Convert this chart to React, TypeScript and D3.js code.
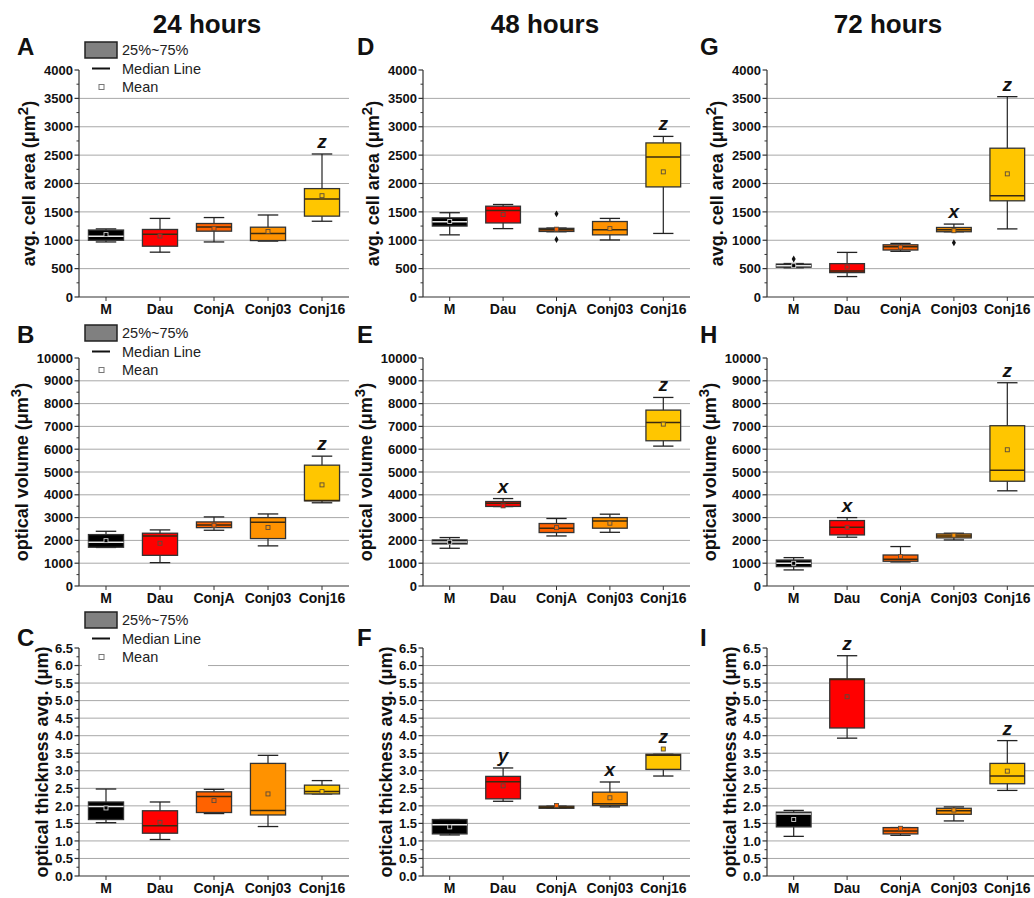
import React from 'react';
import * as d3 from 'd3';

// Groups and their fill colours
const groups = ['M', 'Dau', 'ConjA', 'Conj03', 'Conj16'];
const groupColors = ['#000000', '#ff0000', '#ff6200', '#ff9200', '#ffc600'];
const columnTitles = ['24 hours', '48 hours', '72 hours'];
const panelLetters = [['A', 'D', 'G'], ['B', 'E', 'H'], ['C', 'F', 'I']];

// Box statistics per group: [min, q1, median, q3, max, mean]
const area24 = [
  [970, 1000, 1070, 1180, 1200, 1100],
  [790, 895, 1105, 1190, 1385, 1075],
  [970, 1160, 1235, 1295, 1400, 1210],
  [985, 995, 1120, 1230, 1445, 1155],
  [1335, 1425, 1725, 1910, 2520, 1785],
];
const area48 = [
  [1095, 1250, 1325, 1395, 1485, 1330],
  [1205, 1305, 1525, 1600, 1630, 1455],
  [1150, 1155, 1185, 1210, 1215, 1195],
  [1005, 1095, 1185, 1330, 1385, 1205],
  [1120, 1940, 2465, 2715, 2830, 2205],
];
const area72 = [
  [515, 525, 550, 580, 590, 552],
  [360, 430, 458, 588, 786, 528],
  [805, 828, 886, 920, 944, 880],
  [1150, 1150, 1185, 1225, 1285, 1168],
  [1200, 1695, 1783, 2622, 3530, 2170],
];
const volume24 = [
  [1690, 1700, 1920, 2255, 2400, 1990],
  [1025, 1345, 2195, 2315, 2460, 1875],
  [2445, 2560, 2680, 2810, 3030, 2665],
  [1760, 2080, 2800, 3000, 3160, 2565],
  [3650, 3735, 3750, 5300, 5695, 4435],
];
const volume48 = [
  [1655, 1845, 1935, 2020, 2125, 1920],
  [3485, 3490, 3630, 3705, 3835, 3515],
  [2195, 2345, 2535, 2740, 2960, 2560],
  [2355, 2535, 2855, 3000, 3150, 2755],
  [6135, 6370, 7175, 7715, 8270, 7100],
];
const volume72 = [
  [705, 850, 995, 1140, 1245, 995],
  [2140, 2240, 2575, 2870, 3000, 2575],
  [1055, 1085, 1170, 1360, 1730, 1290],
  [2020, 2110, 2195, 2285, 2315, 2225],
  [4175, 4595, 5080, 7030, 8915, 5975],
];
const thick24 = [
  [1.52, 1.61, 1.98, 2.11, 2.48, 1.94],
  [1.04, 1.22, 1.43, 1.86, 2.11, 1.53],
  [1.78, 1.81, 2.27, 2.4, 2.47, 2.15],
  [1.41, 1.74, 1.87, 3.21, 3.44, 2.34],
  [2.34, 2.34, 2.41, 2.59, 2.72, 2.41],
];
const thick48 = [
  [1.17, 1.2, 1.46, 1.61, 1.61, 1.4],
  [2.13, 2.2, 2.69, 2.84, 3.08, 2.57],
  [1.93, 1.93, 1.96, 1.99, 1.99, 2.01],
  [1.97, 2.01, 2.06, 2.39, 2.68, 2.23],
  [2.85, 3.04, 3.44, 3.47, 3.47, 3.62],
];
const thick72 = [
  [1.13, 1.4, 1.77, 1.82, 1.87, 1.61],
  [3.93, 4.22, 5.6, 5.62, 6.28, 5.11],
  [1.16, 1.2, 1.28, 1.38, 1.38, 1.36],
  [1.57, 1.76, 1.86, 1.93, 1.97, 1.88],
  [2.44, 2.63, 2.85, 3.21, 3.86, 2.99],
];

// Single points outside the whiskers
const outliersArea48 = [[], [], [1465, 1015], [], []];
const outliersArea72 = [[670], [], [], [955], []];
const noOutliers = [[], [], [], [], []];

// Significance letters above groups
const lettersArea24 = ['', '', '', '', 'z'];
const lettersArea48 = ['', '', '', '', 'z'];
const lettersArea72 = ['', '', '', 'x', 'z'];
const lettersVolume24 = ['', '', '', '', 'z'];
const lettersVolume48 = ['', 'x', '', '', 'z'];
const lettersVolume72 = ['', 'x', '', '', 'z'];
const lettersThick24 = ['', '', '', '', ''];
const lettersThick48 = ['', 'y', '', 'x', 'z'];
const lettersThick72 = ['', 'z', '', '', 'z'];

// Axis ticks
const areaTicks = d3.range(0, 4001, 500);
const volumeTicks = d3.range(0, 10001, 1000);
const thickTicks = d3.range(0, 14).map((i) => i * 0.5);

const legendLabels = ['25%~75%', 'Median Line', 'Mean'];

const FONT = '"Liberation Sans", Arial, Helvetica, sans-serif';

const colLeft = [79, 423, 767];
const colRight = [349, 690, 1034];
const colTitleX = [207, 545, 888];
const letterX = [17, 357, 700];

type RowCfg = {
  top: number;
  bottom: number;
  ticks: number[];
  fmt: (v: number) => string;
  title: { main: string; sup?: string };
  titleOffset: number;
  letterY: number;
  legendY: number;
  data: number[][][];
  outliers: number[][][];
  letters: string[][];
};

const rows: RowCfg[] = [
  {
    top: 70,
    bottom: 297,
    ticks: areaTicks,
    fmt: (v) => String(v),
    title: { main: 'avg. cell area (μm', sup: '2' },
    titleOffset: -50,
    letterY: 55,
    legendY: 50,
    data: [area24, area48, area72],
    outliers: [noOutliers, outliersArea48, outliersArea72],
    letters: [lettersArea24, lettersArea48, lettersArea72],
  },
  {
    top: 358,
    bottom: 586,
    ticks: volumeTicks,
    fmt: (v) => String(v),
    title: { main: 'optical volume (μm', sup: '3' },
    titleOffset: -57,
    letterY: 343,
    legendY: 333,
    data: [volume24, volume48, volume72],
    outliers: [noOutliers, noOutliers, noOutliers],
    letters: [lettersVolume24, lettersVolume48, lettersVolume72],
  },
  {
    top: 648,
    bottom: 876,
    ticks: thickTicks,
    fmt: (v) => d3.format('.1f')(v),
    title: { main: 'optical thickness avg. (μm)' },
    titleOffset: -37,
    letterY: 646,
    legendY: 620,
    data: [thick24, thick48, thick72],
    outliers: [noOutliers, noOutliers, noOutliers],
    letters: [lettersThick24, lettersThick48, lettersThick72],
  },
];

function Panel({ row, col }: { row: RowCfg; col: number }) {
  const left = colLeft[col];
  const right = colRight[col];
  const x = d3.scaleBand<string>().domain(groups).range([left, right]).padding(0);
  const ticks = row.ticks;
  const y = d3
    .scaleLinear()
    .domain([ticks[0], ticks[ticks.length - 1]])
    .range([row.bottom, row.top]);
  const step = ticks[1] - ticks[0];
  const minor = ticks.slice(0, -1).map((t) => t + step / 2);
  const bw = x.bandwidth();
  const boxW = bw * 0.65;
  const capW = bw * 0.38;
  const stats = row.data[col];
  const outs = row.outliers[col];
  const letters = row.letters[col];
  const midY = (row.top + row.bottom) / 2;
  const tx = left + row.titleOffset;

  return (
    <g>
      {/* grid */}
      {ticks.slice(1, -1).map((t) => (
        <line key={'g' + t} x1={left} x2={right} y1={y(t)} y2={y(t)} stroke="#a8a8a8" strokeWidth={1} />
      ))}
      {/* boxes */}
      {stats.map((s, i) => {
        const cx = (x(groups[i]) as number) + bw / 2;
        const [mn, q1, md, q3, mx, mean] = s;
        const dark = i === 0;
        return (
          <g key={'b' + i}>
            <line x1={cx} x2={cx} y1={y(mx)} y2={y(mn)} stroke="#222" strokeWidth={1.2} />
            <line x1={cx - capW / 2} x2={cx + capW / 2} y1={y(mx)} y2={y(mx)} stroke="#222" strokeWidth={1.3} />
            <line x1={cx - capW / 2} x2={cx + capW / 2} y1={y(mn)} y2={y(mn)} stroke="#222" strokeWidth={1.3} />
            <rect
              x={cx - boxW / 2}
              y={y(q3)}
              width={boxW}
              height={Math.max(1, y(q1) - y(q3))}
              fill={groupColors[i]}
              stroke="#333"
              strokeWidth={1.3}
            />
            <line
              x1={cx - boxW / 2}
              x2={cx + boxW / 2}
              y1={y(md)}
              y2={y(md)}
              stroke={dark ? '#e8e8e8' : '#3a2a10'}
              strokeWidth={1.5}
            />
            <rect
              x={cx - 2}
              y={y(mean) - 2}
              width={4}
              height={4}
              fill={groupColors[i]}
              stroke={dark ? '#cfcfcf' : '#5a4a3a'}
              strokeWidth={0.9}
            />
            {outs[i].map((o, k) => (
              <path
                key={'o' + k}
                transform={`translate(${cx},${y(o)})`}
                d={d3.symbol(d3.symbolDiamond, 14)() as string}
                fill="#111"
              />
            ))}
            {letters[i] && (
              <text
                x={cx}
                y={Math.min(y(mx), y(mean)) - 6}
                textAnchor="middle"
                fontFamily={FONT}
                fontWeight="bold"
                fontStyle="italic"
                fontSize={19}
                fill="#111"
              >
                {letters[i]}
              </text>
            )}
          </g>
        );
      })}
      {/* y axis */}
      <line x1={left} x2={left} y1={row.top} y2={row.bottom} stroke="#333" strokeWidth={1.2} />
      {minor.map((t) => (
        <line key={'m' + t} x1={left - 2.5} x2={left} y1={y(t)} y2={y(t)} stroke="#333" strokeWidth={1} />
      ))}
      {ticks.map((t) => (
        <g key={'t' + t}>
          <line x1={left - 4.5} x2={left} y1={y(t)} y2={y(t)} stroke="#333" strokeWidth={1.2} />
          <text
            x={left - 6}
            y={y(t)}
            dy="0.36em"
            textAnchor="end"
            fontFamily={FONT}
            fontWeight="bold"
            fontSize={13}
            fill="#111"
          >
            {row.fmt(t)}
          </text>
        </g>
      ))}
      {/* x axis */}
      <line x1={left} x2={right} y1={row.bottom} y2={row.bottom} stroke="#333" strokeWidth={1.2} />
      {groups.map((g) => {
        const cx = (x(g) as number) + bw / 2;
        return (
          <g key={'x' + g}>
            <line x1={cx} x2={cx} y1={row.bottom} y2={row.bottom + 4} stroke="#333" strokeWidth={1} />
            <text
              x={cx}
              y={row.bottom + 17}
              textAnchor="middle"
              fontFamily={FONT}
              fontWeight="bold"
              fontSize={14}
              fill="#111"
            >
              {g}
            </text>
          </g>
        );
      })}
      {/* y title */}
      <text
        transform={`translate(${tx},${midY}) rotate(-90)`}
        textAnchor="middle"
        dy="0.35em"
        fontFamily={FONT}
        fontWeight="bold"
        fontSize={18}
        fill="#111"
      >
        {row.title.main}
        {row.title.sup && (
          <>
            <tspan fontSize={15} dy={-7}>
              {row.title.sup}
            </tspan>
            <tspan dy={7}>)</tspan>
          </>
        )}
      </text>
    </g>
  );
}

function Legend({ cy }: { cy: number }) {
  const x0 = 85;
  const gap = 18.5;
  return (
    <g fontFamily={FONT} fontSize={14.5} fill="#222">
      <rect x={82} y={cy - 12} width={126} height={gap * 2 + 22} fill="#fff" />
      <rect x={x0} y={cy - 8} width={32} height={16} fill="#808080" stroke="#222" strokeWidth={1.5} />
      <text x={122} y={cy} dy="0.35em">
        {legendLabels[0]}
      </text>
      <line x1={92} x2={110} y1={cy + gap} y2={cy + gap} stroke="#111" strokeWidth={2} />
      <text x={122} y={cy + gap} dy="0.35em">
        {legendLabels[1]}
      </text>
      <rect x={99} y={cy + gap * 2 - 2.5} width={5} height={5} fill="#fff" stroke="#777" strokeWidth={1} />
      <text x={122} y={cy + gap * 2} dy="0.35em">
        {legendLabels[2]}
      </text>
    </g>
  );
}

export default function App() {
  return (
    <svg
      width={1034}
      height={898}
      style={{ position: 'absolute', left: 0, top: 0, background: '#fff' }}
    >
      <rect width={1034} height={898} fill="#fff" />
      {columnTitles.map((t, c) => (
        <text
          key={t}
          x={colTitleX[c]}
          y={33}
          textAnchor="middle"
          fontFamily={FONT}
          fontWeight="bold"
          fontSize={26}
          fill="#111"
        >
          {t}
        </text>
      ))}
      {rows.map((row, r) => (
        <g key={'r' + r}>
          {[0, 1, 2].map((c) => (
            <Panel key={'p' + c} row={row} col={c} />
          ))}
          <Legend cy={row.legendY} />
          {[0, 1, 2].map((c) => (
            <text
              key={'l' + c}
              x={letterX[c]}
              y={row.letterY}
              fontFamily={FONT}
              fontWeight="bold"
              fontSize={24}
              fill="#111"
            >
              {panelLetters[r][c]}
            </text>
          ))}
        </g>
      ))}
    </svg>
  );
}
